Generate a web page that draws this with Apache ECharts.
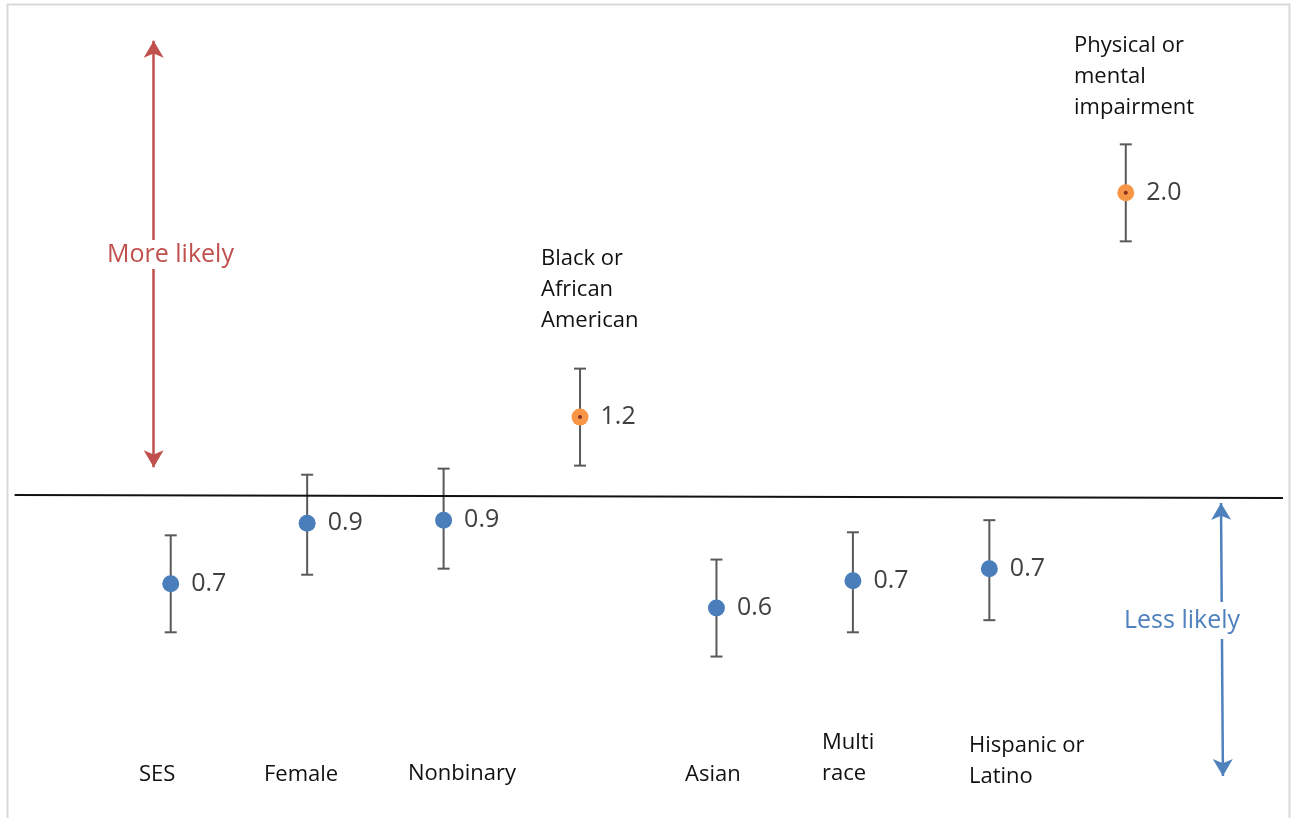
<!DOCTYPE html>
<html>
<head>
<meta charset="utf-8">
<script src="https://cdn.jsdelivr.net/npm/echarts@6/dist/echarts.min.js"></script>
<style>html,body{margin:0;padding:0;background:#fff;}#chart{width:1291px;height:818px;}</style>
</head>
<body>
<div id="chart"></div>
<script>
// ---- data ----
const categories = ['SES', 'Female', 'Nonbinary', 'Black or African American', 'Asian', 'Multi race', 'Hispanic or Latino', 'Physical or mental impairment'];
const oddsRatio = [0.71, 0.91, 0.92, 1.26, 0.63, 0.72, 0.76, 2.0];
const ciLow = [0.55, 0.74, 0.76, 1.10, 0.47, 0.55, 0.59, 1.84];
const ciHigh = [0.87, 1.07, 1.09, 1.42, 0.79, 0.88, 0.92, 2.16];
const valueLabels = ['0.7', '0.9', '0.9', '1.2', '0.6', '0.7', '0.7', '2.0'];
const highlighted = [false, false, false, true, false, false, false, true];
const referenceValue = 1.0;

// ---- chart ----
const FONT = '"Open Sans", "Liberation Sans", sans-serif';
const chart = echarts.init(document.getElementById('chart'));

const pointData = oddsRatio.map((v, i) => ({
  value: [i, v],
  itemStyle: { color: highlighted[i] ? '#f79646' : '#4a7ebb', opacity: 1 }
}));
const centerData = oddsRatio.map((v, i) => highlighted[i] ? [i, v] : null).filter(d => d);
const ciData = ciLow.map((lo, i) => [i, lo, ciHigh[i]]);

// category name text boxes (placement in pixels)
const namePlacement = [
  { left: 139, top: 759 },
  { left: 264, top: 759 },
  { left: 408, top: 758 },
  { left: 541, top: 243 },
  { left: 685, top: 759 },
  { left: 822, top: 727 },
  { left: 969, top: 730 },
  { left: 1074, top: 30 }
];
const nameText = [
  'SES', 'Female', 'Nonbinary', 'Black or\nAfrican\nAmerican', 'Asian', 'Multi\nrace', 'Hispanic or\nLatino', 'Physical or\nmental\nimpairment'
];

const option = {
  animation: false,
  backgroundColor: '#ffffff',
  grid: { left: 7, right: 1.5, top: 11, bottom: 19 },
  xAxis: { type: 'value', min: -1.2, max: 8.2, show: false },
  yAxis: { type: 'value', min: 0, max: 2.6, show: false },
  graphic: [
    {
      type: 'rect', z: 0, silent: true,
      shape: { x: 7.5, y: 4.5, width: 1282, height: 830 },
      style: { fill: null, stroke: '#d9d9d9', lineWidth: 2 }
    },
    {
      type: 'text', z: 100, left: 107, top: 240,
      style: {
        text: 'More likely', fill: '#c0504d', font: '25px ' + FONT,
        backgroundColor: '#ffffff', padding: [2, 0, 2, 0]
      }
    },
    {
      type: 'text', z: 100, left: 1124, top: 602,
      style: {
        text: 'Less likely', fill: '#4f81bd', font: '25px ' + FONT,
        backgroundColor: '#ffffff', padding: [6, 0, 6, 0]
      }
    }
  ].concat(nameText.map((t, i) => ({
    type: 'text', z: 100, left: namePlacement[i].left, top: namePlacement[i].top,
    style: { text: t, fill: '#111111', font: '22px ' + FONT, lineHeight: 31 }
  }))),
  series: [
    {
      type: 'line', data: [], silent: true,
      markLine: {
        silent: true, symbol: ['none', 'none'], label: { show: false },
        lineStyle: { color: '#111111', width: 2, type: 'solid' },
        data: [[{ coord: [-1.144, referenceValue + 0.003] }, { coord: [8.152, referenceValue - 0.007] }]]
      }
    },
    {
      type: 'line', data: [], silent: true,
      markLine: {
        silent: true, symbol: ['arrow', 'arrow'], symbolSize: [15, 17], label: { show: false },
        data: [
          [{ coord: [-0.125, 2.502], lineStyle: { color: '#c0504d', width: 2.5, type: 'solid' }, itemStyle: { color: '#c0504d' } },
           { coord: [-0.125, 1.095] }],
          [{ coord: [7.698, 0.977], lineStyle: { color: '#4f81bd', width: 2.5, type: 'solid' }, itemStyle: { color: '#4f81bd' } },
           { coord: [7.712, 0.076] }]
        ]
      }
    },
    {
      type: 'custom', data: ciData, z: 3,
      renderItem: function (params, api) {
        const x = api.value(0);
        const pLo = api.coord([x, api.value(1)]);
        const pHi = api.coord([x, api.value(2)]);
        const hw = 6;
        const st = { stroke: '#595959', lineWidth: 2 };
        return {
          type: 'group', children: [
            { type: 'line', shape: { x1: pLo[0], y1: pLo[1], x2: pHi[0], y2: pHi[1] }, style: st },
            { type: 'line', shape: { x1: pLo[0] - hw, y1: pLo[1], x2: pLo[0] + hw, y2: pLo[1] }, style: st },
            { type: 'line', shape: { x1: pHi[0] - hw, y1: pHi[1], x2: pHi[0] + hw, y2: pHi[1] }, style: st }
          ]
        };
      }
    },
    {
      type: 'scatter', data: pointData, symbolSize: 17, z: 5,
      label: {
        show: true, position: 'right', distance: 12,
        formatter: p => valueLabels[p.dataIndex],
        color: '#404040', fontSize: 25, fontFamily: FONT
      }
    },
    {
      type: 'scatter', data: centerData, symbolSize: 4, z: 6,
      itemStyle: { color: '#8b2e22', opacity: 1 }
    }
  ]
};
chart.setOption(option);
</script>
</body>
</html>
